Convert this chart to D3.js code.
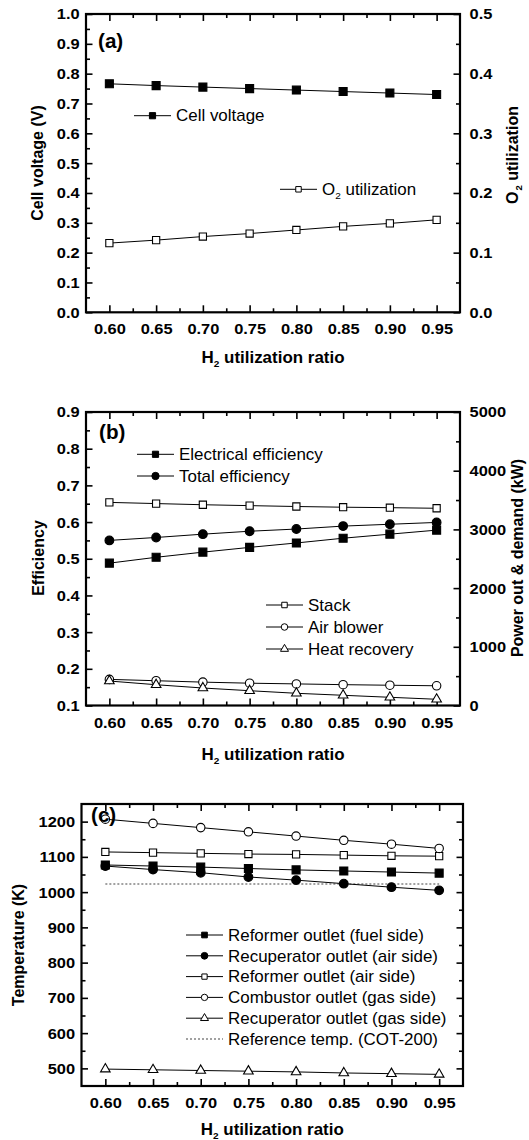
<!DOCTYPE html>
<html><head><meta charset="utf-8">
<script src="https://cdn.jsdelivr.net/npm/d3@7"></script>
<style>
html,body{margin:0;padding:0;background:#fff;}
svg{display:block;}
text{font-family:"Liberation Sans",Arial,sans-serif;fill:#000;}
</style></head>
<body>
<svg id="chart" width="529" height="1140"></svg>
<script>
// ---------- DATA ----------
const h2Ratio = [0.60, 0.65, 0.70, 0.75, 0.80, 0.85, 0.90, 0.95];
const xTickLabels = [0.60, 0.65, 0.70, 0.75, 0.80, 0.85, 0.90, 0.95];
const xMinorTicks = [0.625, 0.675, 0.725, 0.775, 0.825, 0.875, 0.925];

// (a)
const cellVoltage = [0.766, 0.760, 0.755, 0.750, 0.745, 0.740, 0.735, 0.730];
const o2Utilization = [0.116, 0.121, 0.127, 0.132, 0.138, 0.144, 0.149, 0.155];
const aLeftTicks = [0.0, 0.1, 0.2, 0.3, 0.4, 0.5, 0.6, 0.7, 0.8, 0.9, 1.0];
const aRightTicks = [0.0, 0.1, 0.2, 0.3, 0.4, 0.5];

// (b)
const electricalEff = [0.488, 0.504, 0.518, 0.531, 0.543, 0.556, 0.567, 0.578];
const totalEff = [0.550, 0.558, 0.567, 0.575, 0.581, 0.589, 0.594, 0.599];
const stackPower = [3460, 3440, 3420, 3405, 3390, 3378, 3370, 3360];
const airBlowerPower = [445, 422, 398, 380, 368, 355, 345, 336];
const heatRecovery = [417, 354, 298, 252, 208, 174, 140, 106];
const bLeftTicks = [0.1, 0.2, 0.3, 0.4, 0.5, 0.6, 0.7, 0.8, 0.9];
const bRightTicks = [0, 1000, 2000, 3000, 4000, 5000];

// (c)
const reformerFuel = [1077, 1074, 1071, 1067, 1063, 1060, 1057, 1054];
const recupAir = [1074, 1064, 1055, 1043, 1034, 1024, 1014, 1005];
const reformerAir = [1114, 1112, 1110, 1108, 1107, 1105, 1103, 1102];
const combustorGas = [1207, 1195, 1183, 1171, 1159, 1147, 1136, 1124];
const recupGas = [498, 496, 494, 492, 490, 487, 485, 483];
const referenceTemp = [1023, 1023, 1023, 1023, 1023, 1023, 1023, 1023];
const cTicks = [500, 600, 700, 800, 900, 1000, 1100, 1200];

// ---------- DRAWING ----------
const svg = d3.select("#chart");
const SX = 1.06;           // horizontal stretch of the original figure
const TICK_FS = 15.5, TITLE_FS = 16, LEG_FS = 16;

function minorOf(ticks, step){
  const out=[];
  for(let i=0;i<ticks.length-1;i++) out.push(+(ticks[i]+step).toFixed(4));
  return out;
}

function stretchText(g, x, y, anchor, size, weight){
  const gg = g.append("g").attr("transform",`translate(${x},${y}) scale(${SX},1)`);
  return gg.append("text").attr("text-anchor",anchor)
    .attr("font-size",size).attr("font-weight",weight);
}

function panel(cfg){
  const g = svg.append("g");
  const x = d3.scaleLinear().domain([0.575,0.975]).range([cfg.x0,cfg.x1]);
  const yL = d3.scaleLinear().domain(cfg.yLdom).range([cfg.y1,cfg.y0]);
  const yR = cfg.yRdom ? d3.scaleLinear().domain(cfg.yRdom).range([cfg.y1,cfg.y0]) : yL;

  const styleAxis = (sel)=>{
    sel.select(".domain").remove();
    sel.selectAll("line").attr("stroke","#000").attr("stroke-width",1.6);
    sel.selectAll("text").attr("font-size",TICK_FS).attr("font-weight","bold")
      .attr("font-family","Liberation Sans, Arial, sans-serif").attr("fill","#000");
  };
  // bottom
  g.append("g").attr("transform",`translate(0,${cfg.y1})`)
    .call(d3.axisBottom(x).tickValues(xTickLabels).tickSize(-7).tickSizeOuter(0).tickPadding(11).tickFormat(d3.format(".2f")))
    .call(styleAxis).selectAll("text").attr("transform",`scale(${SX},1)`);
  g.append("g").attr("transform",`translate(0,${cfg.y1})`)
    .call(d3.axisBottom(x).tickValues(xMinorTicks).tickSize(-4).tickSizeOuter(0).tickFormat(""))
    .call(styleAxis);
  // top
  g.append("g").attr("transform",`translate(0,${cfg.y0})`)
    .call(d3.axisTop(x).tickValues(xTickLabels).tickSize(-7).tickSizeOuter(0).tickFormat(""))
    .call(styleAxis);
  g.append("g").attr("transform",`translate(0,${cfg.y0})`)
    .call(d3.axisTop(x).tickValues(xMinorTicks).tickSize(-4).tickSizeOuter(0).tickFormat(""))
    .call(styleAxis);
  // left
  g.append("g").attr("transform",`translate(${cfg.x0},0)`)
    .call(d3.axisLeft(yL).tickValues(cfg.yLticks).tickSize(-6.5).tickSizeOuter(0).tickPadding(6).tickFormat(cfg.yLfmt))
    .call(styleAxis).selectAll("text").attr("transform",`scale(${SX},1)`);
  g.append("g").attr("transform",`translate(${cfg.x0},0)`)
    .call(d3.axisLeft(yL).tickValues(minorOf(cfg.yLticks,cfg.yLminor)).tickSize(-4).tickSizeOuter(0).tickFormat(""))
    .call(styleAxis);
  // right
  g.append("g").attr("transform",`translate(${cfg.x1},0)`)
    .call(d3.axisRight(yR).tickValues(cfg.yRticks).tickSize(-6.5).tickSizeOuter(0).tickPadding(9)
      .tickFormat(cfg.yRfmt ? cfg.yRfmt : ""))
    .call(styleAxis).selectAll("text").attr("transform",`scale(${SX},1)`);
  g.append("g").attr("transform",`translate(${cfg.x1},0)`)
    .call(d3.axisRight(yR).tickValues(minorOf(cfg.yRticks,cfg.yRminor)).tickSize(-4).tickSizeOuter(0).tickFormat(""))
    .call(styleAxis);
  // frame
  g.append("rect").attr("x",cfg.x0).attr("y",cfg.y0)
    .attr("width",cfg.x1-cfg.x0).attr("height",cfg.y1-cfg.y0)
    .attr("fill","none").attr("stroke","#000").attr("stroke-width",2.2);

  // x title
  const xt = stretchText(g,(cfg.x0+cfg.x1)/2,cfg.xTitleY,"middle",TITLE_FS,"bold");
  xt.append("tspan").text("H");
  xt.append("tspan").attr("font-size",9.5).attr("dy",4).text("2");
  xt.append("tspan").attr("dy",-4).text(" utilization ratio");

  return {g,x,yL,yR};
}

function series(P, yScale, vals, sym, filled, size, dashed){
  const line = d3.line().x((d,i)=>P.x(h2Ratio[i])).y(d=>yScale(d));
  P.g.append("path").datum(vals).attr("d",line).attr("fill","none")
    .attr("stroke",dashed?"#444":"#000").attr("stroke-width",dashed?1.2:1)
    .attr("stroke-dasharray",dashed?"2,2":null);
  if(!sym) return;
  P.g.selectAll(null).data(vals).enter().append("path")
    .attr("transform",(d,i)=>`translate(${P.x(h2Ratio[i])},${yScale(d)})`)
    .attr("d",d3.symbol().type(sym).size(size))
    .attr("fill",filled?"#000":"#fff").attr("stroke","#000").attr("stroke-width",1.1);
}

function legendItem(g, xl, xr, y, sym, filled, size, label, dashed){
  g.append("line").attr("x1",xl).attr("x2",xr).attr("y1",y).attr("y2",y)
    .attr("stroke",dashed?"#444":"#000").attr("stroke-width",dashed?1.2:1)
    .attr("stroke-dasharray",dashed?"2,2":null);
  if(sym){
    g.append("path").attr("transform",`translate(${(xl+xr)/2},${y})`)
      .attr("d",d3.symbol().type(sym).size(size))
      .attr("fill",filled?"#000":"#fff").attr("stroke","#000").attr("stroke-width",1);
  }
  const t = stretchText(g, xr+5, y+5.7, "start", LEG_FS, "normal");
  if(typeof label==="string") t.text(label);
  else label(t);
}

function yTitle(g, x, y, build){
  const t = g.append("text").attr("transform",`translate(${x},${y}) rotate(-90)`)
    .attr("text-anchor","middle").attr("font-size",TITLE_FS).attr("font-weight","bold");
  build(t);
}

const fmt1 = d3.format(".1f");

// ----- Panel (a)
const A = panel({x0:86,x1:460,y0:14,y1:312.3,yLdom:[0,1],yLticks:aLeftTicks,yLminor:0.05,yLfmt:fmt1,
  yRdom:[0,0.5],yRticks:aRightTicks,yRminor:0.05,yRfmt:fmt1,xTitleY:363});
series(A, A.yL, cellVoltage, d3.symbolSquare, true, 64);
series(A, A.yR, o2Utilization, d3.symbolSquare, false, 52);
legendItem(A.g, 134, 171, 115.7, d3.symbolSquare, true, 38, "Cell voltage");
legendItem(A.g, 280, 317, 189.3, d3.symbolSquare, false, 30, t=>{
  t.append("tspan").text("O");
  t.append("tspan").attr("font-size",9.5).attr("dy",4).text("2");
  t.append("tspan").attr("dy",-4).text(" utilization");
});
yTitle(A.g, 43, 163, t=>t.text("Cell voltage (V)"));
yTitle(A.g, 518, 155, t=>{
  t.append("tspan").text("O");
  t.append("tspan").attr("font-size",9.5).attr("dx",1).attr("dy",4).text("2");
  t.append("tspan").attr("dy",-4).text(" utilization");
});
stretchText(A.g, 98, 47.5, "start", 19.5, "bold").text("(a)");

// ----- Panel (b)
const B = panel({x0:86,x1:460,y0:412,y1:705.5,yLdom:[0.1,0.9],yLticks:bLeftTicks,yLminor:0.05,yLfmt:fmt1,
  yRdom:[0,5000],yRticks:bRightTicks,yRminor:500,yRfmt:d3.format("d"),xTitleY:759.5});
series(B, B.yL, electricalEff, d3.symbolSquare, true, 64);
series(B, B.yL, totalEff, d3.symbolCircle, true, 60);
series(B, B.yR, stackPower, d3.symbolSquare, false, 52);
series(B, B.yR, airBlowerPower, d3.symbolCircle, false, 56);
series(B, B.yR, heatRecovery, d3.symbolTriangle, false, 40);
legendItem(B.g, 137, 174, 454.3, d3.symbolSquare, true, 38, "Electrical efficiency");
legendItem(B.g, 137, 174, 476, d3.symbolCircle, true, 42, "Total efficiency");
legendItem(B.g, 266, 303, 605, d3.symbolSquare, false, 30, "Stack");
legendItem(B.g, 266, 303, 627, d3.symbolCircle, false, 34, "Air blower");
legendItem(B.g, 266, 303, 649, d3.symbolTriangle, false, 28, "Heat recovery");
yTitle(B.g, 44, 558, t=>t.text("Efficiency"));
yTitle(B.g, 523, 558, t=>t.text("Power out & demand (kW)"));
stretchText(B.g, 99, 439, "start", 19.5, "bold").text("(b)");

// ----- Panel (c)
const C = panel({x0:81.5,x1:463,y0:804,y1:1086,yLdom:[450,1250],yLticks:cTicks,yLminor:50,yLfmt:d3.format("d"),
  yRdom:null,yRticks:cTicks,yRminor:50,yRfmt:null,xTitleY:1135});
series(C, C.yL, referenceTemp, null, false, 0, true);
series(C, C.yL, reformerFuel, d3.symbolSquare, true, 64);
series(C, C.yL, recupAir, d3.symbolCircle, true, 60);
series(C, C.yL, reformerAir, d3.symbolSquare, false, 52);
series(C, C.yL, combustorGas, d3.symbolCircle, false, 56);
series(C, C.yL, recupGas, d3.symbolTriangle, false, 40);
const legC = [
  [d3.symbolSquare,true,32,"Reformer outlet (fuel side)",false],
  [d3.symbolCircle,true,36,"Recuperator outlet (air side)",false],
  [d3.symbolSquare,false,28,"Reformer outlet (air side)",false],
  [d3.symbolCircle,false,32,"Combustor outlet (gas side)",false],
  [d3.symbolTriangle,false,28,"Recuperator outlet (gas side)",false],
  [null,false,0,"Reference temp. (COT-200)",true]
];
legC.forEach((d,i)=>legendItem(C.g, 186, 223, 935 + i*20.8, d[0], d[1], d[2], d[3], d[4]));
yTitle(C.g, 24, 945, t=>t.text("Temperature (K)"));
stretchText(C.g, 91, 822, "start", 19.5, "bold").text("(c)");
</script>
</body></html>
